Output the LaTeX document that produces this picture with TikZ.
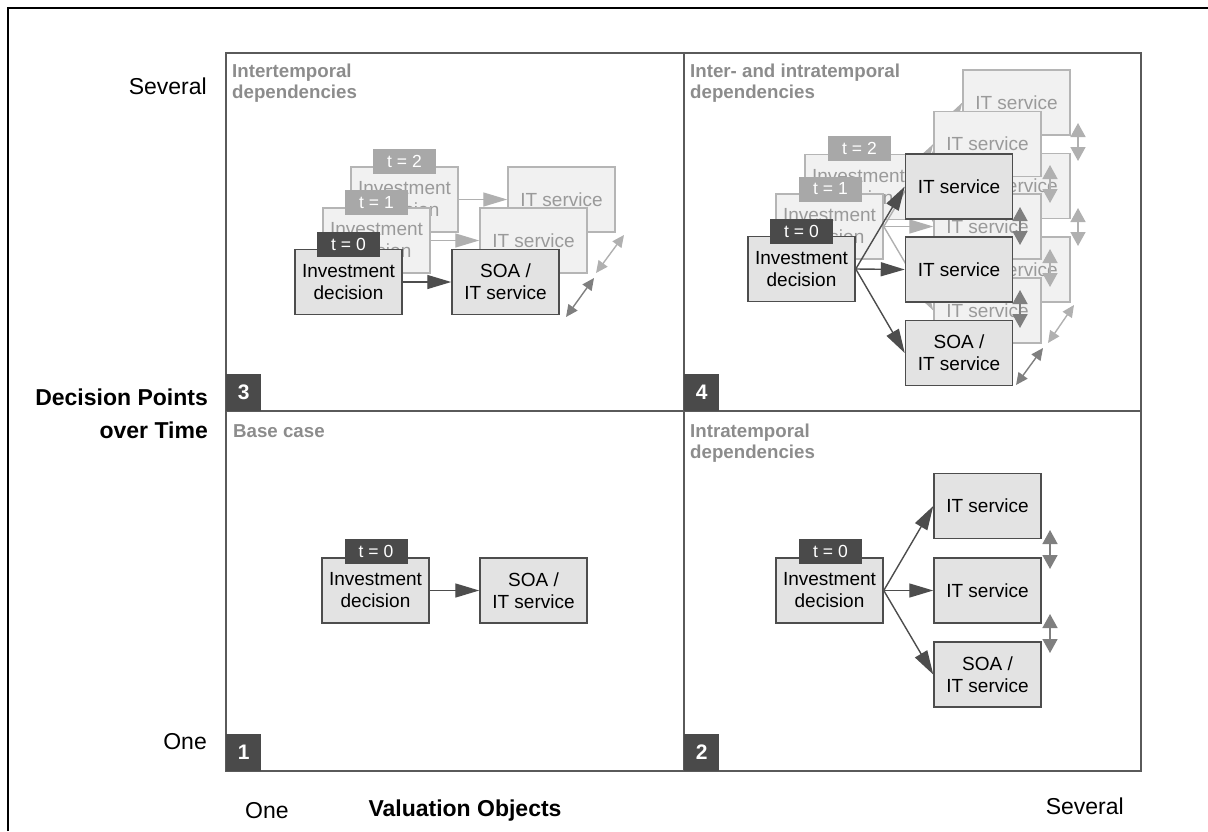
\documentclass[tikz,border=0pt]{standalone}
\usepackage{fontspec}
\setmainfont{Liberation Sans}
\usetikzlibrary{arrows.meta}
\definecolor{qline}{HTML}{5A5A5A}
\definecolor{bdk}{HTML}{4D4D4D}
\definecolor{fdk}{HTML}{E3E3E3}
\definecolor{tagdk}{HTML}{4A4A4A}
\definecolor{bgh}{HTML}{B5B5B5}
\definecolor{fgh}{HTML}{F1F1F1}
\definecolor{tgh}{HTML}{9A9A9A}
\definecolor{taggh}{HTML}{A8A8A8}
\definecolor{agh}{HTML}{B0B0B0}
\definecolor{dblc}{HTML}{7F7F7F}
\definecolor{dblg}{HTML}{B0B0B0}
\definecolor{ttl}{HTML}{8C8C8C}
\begin{document}
\begin{tikzpicture}[x=1pt,y=-1pt,
  dbox/.style={draw=bdk, fill=fdk, line width=1.5pt, minimum width=107pt, minimum height=65pt,
    inner sep=0pt, align=center, text=black, font=\fontsize{19}{22}\selectfont},
  gbox/.style={dbox, draw=bgh, fill=fgh, text=tgh},
  dtag/.style={fill=tagdk, text=white, minimum width=63pt, minimum height=25pt, inner sep=0pt,
    font=\fontsize{17.5}{20}\selectfont},
  gtag/.style={dtag, fill=taggh},
  darr/.style={draw=bdk, line width=1.4pt, -{Triangle[length=24pt,width=14pt]}},
  garr/.style={darr, draw=agh},
  vdbl/.style={line width=1.6pt, {Triangle[length=14pt,width=15pt]}-{Triangle[length=14pt,width=15pt]}},
  ddbl/.style={line width=1.4pt, {Triangle[length=12pt,width=11pt]}-{Triangle[length=12pt,width=11pt]}},
  ttl/.style={text=ttl, font=\bfseries\fontsize{18.7}{21}\selectfont, inner sep=0pt},
  badge/.style={fill=tagdk, text=white, minimum width=35pt, minimum height=37pt, inner sep=0pt,
    font=\bfseries\fontsize{21}{24}\selectfont},
  axl/.style={font=\fontsize{23}{26}\selectfont, inner sep=0pt},
  axb/.style={font=\bfseries\fontsize{23}{26}\selectfont, inner sep=0pt}
]
\useasboundingbox (0,0) rectangle (1208,831);
% outer frame (partially outside)
\draw[black, line width=2pt] (8,831) -- (8,8) -- (1208,8);
% quadrants
\draw[qline, line width=2pt] (226,53) rectangle (1141,771);
\draw[qline, line width=2pt] (684,53) -- (684,771);
\draw[qline, line width=2pt] (226,411) -- (1141,411);

% badges
\node[badge, anchor=south west] (b3) at (226,411) {3};
\node[badge, anchor=south west] (b4) at (684,411) {4};
\node[badge, anchor=south west] (b1) at (226,771) {1};
\node[badge, anchor=south west] (b2) at (684,771) {2};

% titles
\node[ttl, anchor=base west] (t3a) at (232,77) {Intertemporal};
\node[ttl, anchor=base west] (t3b) at (232,98) {dependencies};
\node[ttl, anchor=base west] (t4a) at (690,77) {Inter- and intratemporal};
\node[ttl, anchor=base west] (t4b) at (690,98) {dependencies};
\node[ttl, anchor=base west] (t1a) at (233,437) {Base case};
\node[ttl, anchor=base west] (t2a) at (690,437) {Intratemporal};
\node[ttl, anchor=base west] (t2b) at (690,458) {dependencies};

% axis labels
\node[axl, anchor=base east] (sevl) at (207,94) {Several};
\node[axl, anchor=base east] (onel) at (207,749) {One};
\node[axb, anchor=base east] (dp1) at (208,405) {Decision Points};
\node[axb, anchor=base east] (dp2) at (208,438) {over Time};
\node[axl, anchor=base west] (oneb) at (245,818) {One};
\node[axl, anchor=base east] (sevb) at (1124,814) {Several};
\node[axb, anchor=base] (vo) at (465,816) {Valuation Objects};

% ---------- Quadrant 1 ----------
\node[dbox] (q1inv) at (375.5,590.5) {Investment\\decision};
\node[dtag] (q1tag) at (376,551) {t = 0};
\node[dbox] (q1soa) at (533.5,590.5) {SOA /\\IT service};
\draw[darr] (q1inv) -- (q1soa);

% ---------- Quadrant 2 ----------
\node[dbox] (q2inv) at (829.5,590.5) {Investment\\decision};
\node[dtag] (q2tag) at (830.5,551) {t = 0};
\node[dbox] (q2it1) at (987.5,506) {IT service};
\node[dbox] (q2it2) at (987.5,590.5) {IT service};
\node[dbox] (q2soa) at (987.5,674.5) {SOA /\\IT service};
\draw[darr] (q2inv.east) -- (q2it1.west);
\draw[darr] (q2inv.east) -- (q2it2.west);
\draw[darr] (q2inv.east) -- (q2soa.west);
\coordinate (q2d1a) at (1050,530); \coordinate (q2d1b) at (1050,569);
\coordinate (q2d2a) at (1050,614); \coordinate (q2d2b) at (1050,653);
\draw[vdbl, dblc] (q2d1a) -- (q2d1b);
\draw[vdbl, dblc] (q2d2a) -- (q2d2b);

% ---------- Quadrant 3 ----------
% t = 2
\node[gbox] (q3inv2) at (404.5,199.5) {Investment\\decision};
\node[gtag] (q3tag2) at (404.5,161.5) {t = 2};
\node[gbox] (q3it2) at (561.5,199.5) {IT service};
\draw[garr] (q3inv2) -- (q3it2);
% t = 1
\node[gbox] (q3inv1) at (376.5,240.5) {Investment\\decision};
\node[gtag] (q3tag1) at (376.5,202.5) {t = 1};
\node[gbox] (q3it1) at (533.5,240.5) {IT service};
\draw[garr] (q3inv1) -- (q3it1);
% t = 0
\node[dbox] (q3inv0) at (348.5,282) {Investment\\decision};
\node[dtag] (q3tag0) at (348.5,244) {t = 0};
\node[dbox] (q3soa) at (505.5,282) {SOA /\\IT service};
\draw[darr] (q3inv0) -- (q3soa);
\coordinate (q3da) at (566,317); \coordinate (q3db) at (594,278);
\coordinate (q3ga) at (596,273); \coordinate (q3gb) at (624,235);
\draw[ddbl, dblc] (q3da) -- (q3db);
\draw[ddbl, dblg] (q3ga) -- (q3gb);

% ---------- Quadrant 4 ----------
% t = 2
\node[gbox] (q4inv2) at (858.5,187) {Investment\\decision};
\node[gtag] (q4tag2) at (859.5,148) {t = 2};
\node[gbox] (q4a2) at (1016.5,102.5) {IT service};
\node[gbox] (q4b2) at (1016.5,186) {IT service};
\node[gbox] (q4c2) at (1016.5,269.5) {IT service};
\draw[garr] (q4inv2.east) -- (q4a2.west);
\draw[garr] (q4inv2.east) -- (q4b2.west);
\draw[garr] (q4inv2.east) -- (q4c2.west);
\coordinate (q4v2a) at (1078,123); \coordinate (q4v2b) at (1078,161);
\coordinate (q4v2c) at (1078,208); \coordinate (q4v2d) at (1078,246);
\draw[vdbl, dblg] (q4v2a) -- (q4v2b);
\draw[vdbl, dblg] (q4v2c) -- (q4v2d);
% t = 1
\node[gbox] (q4inv1) at (829.5,226.5) {Investment\\decision};
\node[gtag] (q4tag1) at (830.5,189) {t = 1};
\node[gbox] (q4a1) at (987.5,144) {IT service};
\node[gbox] (q4b1) at (987.5,226.5) {IT service};
\node[gbox] (q4c1) at (987.5,310.5) {IT service};
\draw[garr] (q4inv1.east) -- (q4a1.west);
\draw[garr] (q4inv1.east) -- (q4b1.west);
\draw[garr] (q4inv1.east) -- (q4c1.west);
\coordinate (q4v1a) at (1050,165); \coordinate (q4v1b) at (1050,203);
\coordinate (q4v1c) at (1050,249); \coordinate (q4v1d) at (1050,287);
\draw[vdbl, dblg] (q4v1a) -- (q4v1b);
\draw[vdbl, dblg] (q4v1c) -- (q4v1d);
% t = 0
\node[dbox] (q4inv0) at (801.5,269) {Investment\\decision};
\node[dtag] (q4tag0) at (801.5,231.5) {t = 0};
\node[dbox] (q4a0) at (959,186.5) {IT service};
\node[dbox] (q4b0) at (959,269.5) {IT service};
\node[dbox] (q4c0) at (959,353) {SOA /\\IT service};
\draw[darr] (q4inv0.east) -- (q4a0.west);
\draw[darr] (q4inv0.east) -- (q4b0.west);
\draw[darr] (q4inv0.east) -- (q4c0.west);
\coordinate (q4v0a) at (1020,207); \coordinate (q4v0b) at (1020,245);
\coordinate (q4v0c) at (1020,290); \coordinate (q4v0d) at (1020,328);
\draw[vdbl, dblc] (q4v0a) -- (q4v0b);
\draw[vdbl, dblc] (q4v0c) -- (q4v0d);
\coordinate (q4da) at (1016,385); \coordinate (q4db) at (1043,348);
\coordinate (q4ga) at (1048,343); \coordinate (q4gb) at (1074,305);
\draw[ddbl, dblc] (q4da) -- (q4db);
\draw[ddbl, dblg] (q4ga) -- (q4gb);
\end{tikzpicture}
\end{document}
